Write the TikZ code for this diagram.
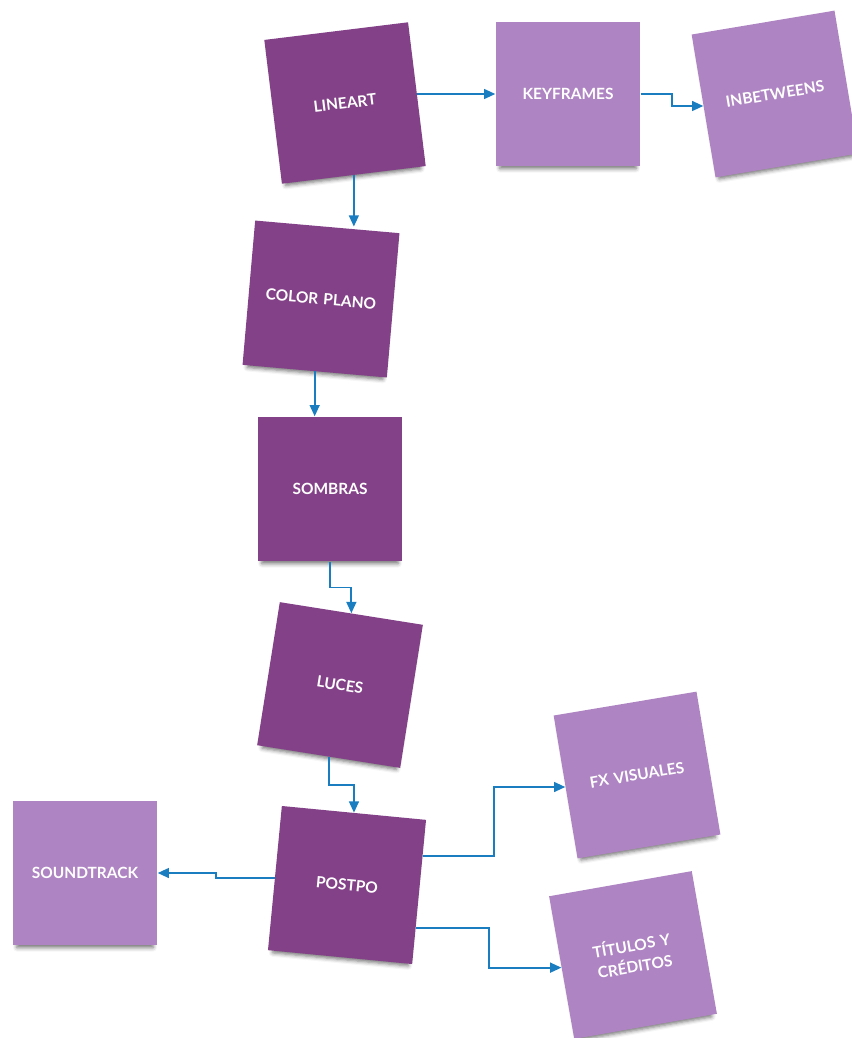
\documentclass[tikz,border=0pt]{standalone}
\usepackage{fontspec}
\setmainfont{Lato}
\usepackage{tikz}
\usetikzlibrary{arrows.meta,shadows.blur,calc}
\definecolor{darkplum}{HTML}{834187}
\definecolor{lightplum}{HTML}{AE84C2}
\definecolor{linkblue}{HTML}{1A7DC0}

\begin{document}
\begin{tikzpicture}[x=0.025cm, y=-0.025cm,
  note/.style={minimum size=3.62cm, inner sep=0pt, text width=3.2cm, align=center,
    text=white, font=\bfseries\fontsize{11}{15}\selectfont,
    blur shadow={shadow xshift=0pt, shadow yshift=-5pt, shadow scale=0.94,
      shadow blur radius=3pt, shadow opacity=55}},
  dark/.style={note, fill=darkplum},
  light/.style={note, fill=lightplum},
  link/.style={draw=linkblue, line width=1.3pt, -{Triangle[length=8pt,width=7pt]}},
  hvh/.style={to path={-| ($(\tikztostart)!.5!(\tikztotarget)$) |- (\tikztotarget)}},
  vhv/.style={to path={|- ($(\tikztostart)!.5!(\tikztotarget)$) -| (\tikztotarget)}}]
  \useasboundingbox (0,0) rectangle (852,1038);
  \node[dark, rotate=7] (a) at (345,103) {LINEART};
  \node[light] (b) at (568,94) {KEYFRAMES};
  \node[light, rotate=9.5] (c) at (775,94) {INBETWEENS};
  \node[dark, rotate=-5] (d) at (321,299) {COLOR PLANO};
  \node[dark] (e) at (330,489) {SOMBRAS};
  \node[dark, rotate=-9] (f) at (340,685) {LUCES};
  \node[dark, rotate=-5.5] (g) at (347,885) {POSTPO};
  \node[light] (h) at (85,873) {SOUNDTRACK};
  \node[light, rotate=9.5] (i) at (637,775) {FX VISUALES};
  \node[light, rotate=10] (j) at (633,955) {TÍTULOS Y\\CRÉDITOS};
  \coordinate (g1) at ($(g.east)!.5!(g.north east)$);
  \coordinate (g2) at ($(g.east)!.5!(g.south east)$);
  \draw[link] (a.east) to[hvh] (b.west);
  \draw[link] (b.east) to[hvh] (c.west);
  \draw[link] (a.south) -- (a.south |- d.north);
  \draw[link] (d.south) -- (d.south |- e.north);
  \draw[link] (e.south) to[vhv] (f.north);
  \draw[link] (f.south) to[vhv] (g.north);
  \draw[link] (g.west) to[hvh] (h.east);
  \draw[link] (g1) to[hvh] (i.west);
  \draw[link] (g2) to[hvh] (j.west);
\end{tikzpicture}
\end{document}
